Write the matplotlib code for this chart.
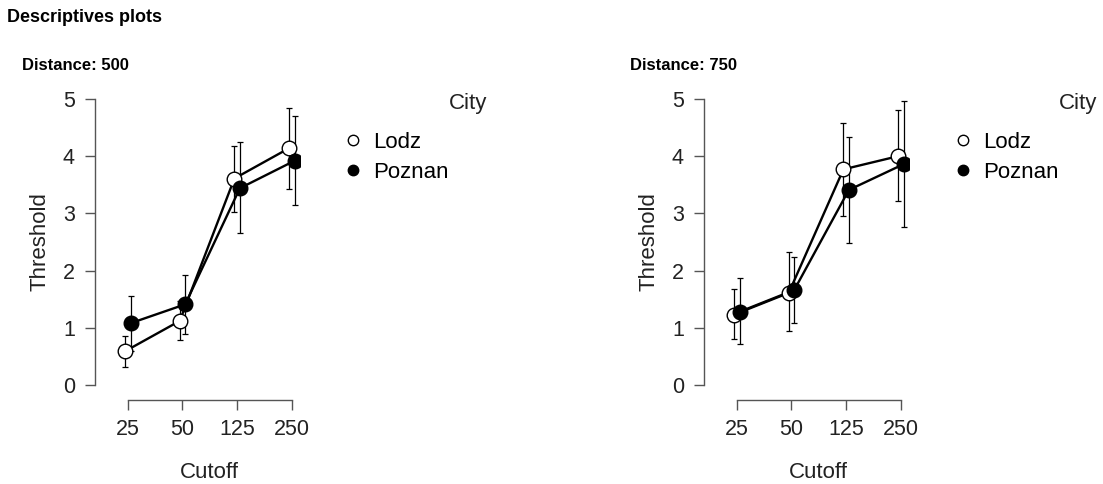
import matplotlib.pyplot as plt
import numpy as np
from matplotlib.lines import Line2D

plt.rcParams['font.family'] = ['Liberation Sans', 'DejaVu Sans']

cutoffs = ['25', '50', '125', '250']
cities = ['Lodz', 'Poznan']

# distance 500
lodz_500 = [0.59, 1.12, 3.61, 4.14]
lodz_500_lo = [0.32, 0.78, 3.03, 3.42]
lodz_500_hi = [0.86, 1.46, 4.18, 4.85]
poz_500 = [1.08, 1.41, 3.44, 3.92]
poz_500_lo = [0.60, 0.89, 2.65, 3.15]
poz_500_hi = [1.56, 1.92, 4.25, 4.71]

# distance 750
lodz_750 = [1.23, 1.61, 3.77, 4.00]
lodz_750_lo = [0.81, 0.94, 2.96, 3.21]
lodz_750_hi = [1.67, 2.32, 4.58, 4.80]
poz_750 = [1.28, 1.66, 3.41, 3.86]
poz_750_lo = [0.71, 1.08, 2.48, 2.76]
poz_750_hi = [1.87, 2.24, 4.34, 4.96]

W, H, DPI = 1103, 484, 100
AX_GRAY = '#555555'
FS = 16
TICK_FS = 15.5
XLIM = (-0.6, 3.15)


def panel(ax, series, title_x, legend_x):
    x = np.arange(len(cutoffs))
    dodge = [-0.05, 0.05]
    faces = ['white', 'black']
    # error bars first, then lines, then points
    for (m, lo, hi), d in zip(series, dodge):
        m = np.array(m)
        err = [m - np.array(lo), np.array(hi) - m]
        ax.errorbar(x + d, m, yerr=err, fmt='none', ecolor='black',
                    elinewidth=0.9, capsize=2.2, capthick=0.9, zorder=1)
    for (m, lo, hi), d in zip(series, dodge):
        ax.plot(x + d, m, color='black', lw=1.7, zorder=2)
    for (m, lo, hi), d, fc in zip(series, dodge, faces):
        ax.plot(x + d, m, 'o', ms=10.5, mfc=fc, mec='black', mew=1.0,
                ls='none', zorder=3)

    ax.set_xlim(*XLIM)
    ax.set_ylim(0, 5)
    ax.set_xticks(x)
    ax.set_xticklabels(cutoffs)
    ax.set_yticks(range(6))
    for s in ['top', 'right']:
        ax.spines[s].set_visible(False)
    ax.spines['left'].set_bounds(0, 5)
    ax.spines['bottom'].set_bounds(0, 3)
    ax.spines['bottom'].set_position(('outward', 11))
    for s in ['left', 'bottom']:
        ax.spines[s].set_color(AX_GRAY)
        ax.spines[s].set_linewidth(1.0)
    ax.tick_params(axis='both', colors=AX_GRAY, labelcolor='#222222',
                   labelsize=TICK_FS, length=7.5, width=1.0, direction='out')
    ax.tick_params(axis='y', pad=7)
    ax.tick_params(axis='x', pad=6)
    ax.set_ylabel('Threshold', fontsize=FS, color='#222222', labelpad=9)
    ax.set_xlabel('Cutoff', fontsize=FS, color='#222222', labelpad=16)
    # centre the x label on the category range, as R does
    ax.xaxis.label.set_x((1.5 - XLIM[0]) / (XLIM[1] - XLIM[0]))

    fig.text(title_x / W, 1 - 65 / H, ax.get_label(), fontsize=12,
             fontweight='bold', ha='left', va='center')

    handles = [Line2D([], [], ls='none', marker='o', ms=7.5, mfc=fc,
                      mec='black', mew=1.0) for fc in faces]
    ax.legend(handles, cities, loc='upper left',
              bbox_to_anchor=((legend_x - 11) / W, 1 - 132 / H),
              bbox_transform=fig.transFigure, frameon=False, fontsize=FS,
              handlelength=1.0, handletextpad=0.4, borderpad=0,
              labelspacing=0.4, borderaxespad=0)
    fig.text((legend_x + 134) / W, 1 - 103 / H, 'City', fontsize=FS,
             ha='right', va='center', color='#222222')


fig = plt.figure(figsize=(W / DPI, H / DPI), dpi=DPI)
fig.text(7 / W, 1 - 18 / H, 'Descriptives plots', fontsize=13,
         fontweight='bold', ha='left', va='center')

ax1 = fig.add_axes([95 / W, 1 - 385 / H, 205 / W, 286 / H], label='Distance: 500')
ax2 = fig.add_axes([704 / W, 1 - 385 / H, 205 / W, 286 / H], label='Distance: 750')

panel(ax1, [(lodz_500, lodz_500_lo, lodz_500_hi),
            (poz_500, poz_500_lo, poz_500_hi)], 22, 353)
panel(ax2, [(lodz_750, lodz_750_lo, lodz_750_hi),
            (poz_750, poz_750_lo, poz_750_hi)], 630, 963)

fig.savefig('out.png', dpi=DPI)
